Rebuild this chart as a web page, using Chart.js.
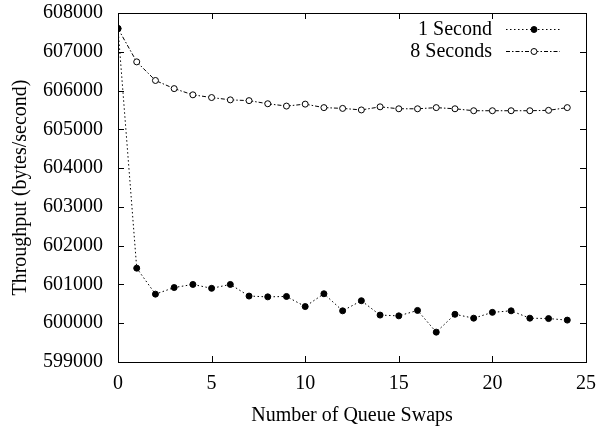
<!DOCTYPE html>
<html>
<head>
<meta charset="utf-8">
<script src="https://cdn.jsdelivr.net/npm/chart.js@4/dist/chart.umd.min.js"></script>
<style>
  html, body { margin: 0; padding: 0; background: #fff; }
  #wrap { width: 596px; height: 428px; position: relative; }
</style>
</head>
<body>
<div id="wrap"><canvas id="ch-swaps"></canvas></div>
<script>
const swaps = [0, 1, 2, 3, 4, 5, 6, 7, 8, 9, 10, 11, 12, 13, 14, 15, 16, 17, 18, 19, 20, 21, 22, 23, 24];
const oneSecond = [607600, 601420, 600750, 600920, 601000, 600900, 601000, 600700, 600680, 600690, 600430, 600760, 600320,
  600580, 600210, 600190, 600330, 599770, 600230, 600130, 600280, 600320, 600130, 600120, 600080];
const eightSeconds = [607600, 606740, 606260, 606050, 605890, 605820, 605760, 605740, 605660, 605600, 605650, 605560, 605540,
  605500, 605580, 605530, 605530, 605560, 605530, 605480, 605480, 605480, 605480, 605490, 605560];
const seriesNames = ['1 Second', '8 Seconds'];
const xTicks = [0, 5, 10, 15, 20, 25];
const yTicks = [599000, 600000, 601000, 602000, 603000, 604000, 605000, 606000, 607000, 608000];

const FONT = "'Liberation Serif', 'Times New Roman', serif";
Chart.defaults.font.family = FONT;
Chart.defaults.color = '#000';

// gnuplot-ish frame: box + inward ticks mirrored on all sides, plus legend at top right
const framePlugin = {
  id: 'frame',
  afterDatasetsDraw(chart) {
    const { ctx, chartArea: a, scales } = chart;
    const len = 6;
    ctx.save();
    ctx.strokeStyle = '#000';
    ctx.lineWidth = 1;
    ctx.beginPath();
    xTicks.forEach(v => {
      const px = Math.round(scales.x.getPixelForValue(v)) + 0.5;
      ctx.moveTo(px, a.bottom); ctx.lineTo(px, a.bottom - len);
      ctx.moveTo(px, a.top); ctx.lineTo(px, a.top + len);
    });
    yTicks.forEach(v => {
      const py = Math.round(scales.y.getPixelForValue(v)) + 0.5;
      ctx.moveTo(a.left, py); ctx.lineTo(a.left + len, py);
      ctx.moveTo(a.right, py); ctx.lineTo(a.right - len, py);
    });
    ctx.stroke();
    ctx.strokeRect(Math.round(a.left) + 0.5, Math.round(a.top) + 0.5, Math.round(a.right - a.left), Math.round(a.bottom - a.top));

    // legend
    ctx.font = '20px ' + FONT;
    ctx.fillStyle = '#000';
    ctx.textAlign = 'right';
    ctx.textBaseline = 'middle';
    chart.data.datasets.forEach((ds, i) => {
      const y = a.top + 16 + i * 22;
      ctx.fillText(ds.label, a.right - 94, y + 1);
      ctx.save();
      ctx.setLineDash(ds.borderDash);
      ctx.lineWidth = ds.borderWidth;
      ctx.beginPath();
      ctx.moveTo(a.right - 80, y + 0.5); ctx.lineTo(a.right - 26, y + 0.5);
      ctx.stroke();
      ctx.restore();
      ctx.beginPath();
      ctx.arc(a.right - 52, y + 0.5, ds.pointRadius, 0, Math.PI * 2);
      ctx.fillStyle = ds.pointBackgroundColor;
      ctx.fill();
      ctx.lineWidth = 1;
      ctx.stroke();
      ctx.fillStyle = '#000';
    });
    ctx.restore();
  }
};

new Chart(document.getElementById('ch-swaps'), {
  type: 'line',
  data: {
    datasets: [
      { label: seriesNames[0], data: swaps.map((s, i) => ({ x: s, y: oneSecond[i] })),
        borderColor: '#000', borderWidth: 1, borderDash: [1.5, 2.5], pointRadius: 3,
        pointBackgroundColor: '#000', pointBorderColor: '#000', pointBorderWidth: 1, tension: 0 },
      { label: seriesNames[1], data: swaps.map((s, i) => ({ x: s, y: eightSeconds[i] })),
        borderColor: '#000', borderWidth: 1, borderDash: [4, 2, 1.5, 2], pointRadius: 3,
        pointBackgroundColor: '#fff', pointBorderColor: '#000', pointBorderWidth: 1, tension: 0 }
    ]
  },
  options: {
    responsive: true, maintainAspectRatio: false, animation: false,
    layout: { padding: { top: 13, right: 10, bottom: 0, left: 0 } },
    plugins: { legend: { display: false }, tooltip: { enabled: false } },
    scales: {
      x: {
        type: 'linear', min: 0, max: 25,
        afterBuildTicks: s => { s.ticks = xTicks.map(v => ({ value: v })); },
        afterFit: s => { s.height = 66; s.paddingLeft = 0; s.paddingRight = 0; },
        ticks: { color: '#000', font: { family: FONT, size: 20 }, padding: 10, maxRotation: 0 },
        grid: { display: false, drawTicks: false }, border: { display: false },
        title: { display: true, text: 'Number of Queue Swaps', color: '#000', font: { family: FONT, size: 20 }, padding: { top: 8, bottom: 0 } }
      },
      y: {
        min: 599000, max: 608000,
        afterBuildTicks: s => { s.ticks = yTicks.map(v => ({ value: v })); },
        afterFit: s => { s.width = 118; s.paddingTop = 0; s.paddingBottom = 0; },
        ticks: { color: '#000', font: { family: FONT, size: 20 }, padding: 15, callback: v => String(v) },
        grid: { display: false, drawTicks: false }, border: { display: false },
        title: { display: true, text: 'Throughput (bytes/second)', color: '#000', font: { family: FONT, size: 20 }, padding: { top: 9, bottom: 9 } }
      }
    }
  },
  plugins: [framePlugin]
});
</script>
</body>
</html>
